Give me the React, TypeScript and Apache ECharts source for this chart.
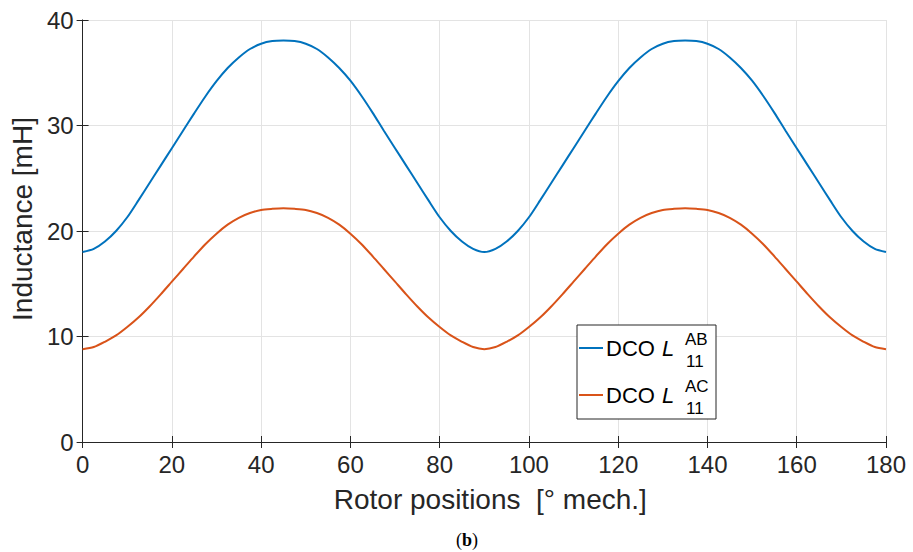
import React, { useEffect, useRef } from "react";
import * as echarts from "echarts";

const rotorPositions: number[] = [
  0, 2.5, 5, 7.5, 10, 12.5, 15, 17.5, 20, 22.5, 25, 27.5, 30, 32.5, 35, 37.5, 40, 42.5, 45,
  47.5, 50, 52.5, 55, 57.5, 60, 62.5, 65, 67.5, 70, 72.5, 75, 77.5, 80, 82.5, 85, 87.5, 90,
  92.5, 95, 97.5, 100, 102.5, 105, 107.5, 110, 112.5, 115, 117.5, 120, 122.5, 125, 127.5, 130, 132.5, 135,
  137.5, 140, 142.5, 145, 147.5, 150, 152.5, 155, 157.5, 160, 162.5, 165, 167.5, 170, 172.5, 175, 177.5, 180,
];

const dcoL11AB: number[] = [
  18.0, 18.3, 19.0, 20.0, 21.3, 22.9, 24.55, 26.2, 27.85, 29.5, 31.15, 32.75, 34.2, 35.45, 36.45, 37.25, 37.75, 38.0, 38.05,
  38.0, 37.75, 37.25, 36.45, 35.45, 34.25, 32.8, 31.2, 29.5, 27.85, 26.2, 24.55, 22.9, 21.3, 20.0, 19.0, 18.3, 18.0,
  18.3, 19.0, 20.0, 21.3, 22.9, 24.55, 26.2, 27.85, 29.5, 31.15, 32.75, 34.2, 35.45, 36.45, 37.25, 37.75, 38.0, 38.05,
  38.0, 37.75, 37.25, 36.45, 35.45, 34.25, 32.8, 31.2, 29.5, 27.85, 26.2, 24.55, 22.9, 21.3, 20.0, 19.0, 18.3, 18.0,
];

const dcoL11AC: number[] = [
  8.8, 9.0, 9.5, 10.1, 10.9, 11.8, 12.85, 14.0, 15.2, 16.4, 17.6, 18.75, 19.75, 20.6, 21.25, 21.7, 22.0, 22.1, 22.15,
  22.1, 22.0, 21.7, 21.25, 20.6, 19.75, 18.75, 17.6, 16.4, 15.2, 14.0, 12.85, 11.8, 10.9, 10.1, 9.5, 9.0, 8.8,
  9.0, 9.5, 10.1, 10.9, 11.8, 12.85, 14.0, 15.2, 16.4, 17.6, 18.75, 19.75, 20.6, 21.25, 21.7, 22.0, 22.1, 22.15,
  22.1, 22.0, 21.7, 21.25, 20.6, 19.75, 18.75, 17.6, 16.4, 15.2, 14.0, 12.85, 11.8, 10.9, 10.1, 9.5, 9.0, 8.8,
];

const xTicks = { min: 0, max: 180, interval: 20 };
const yTicks = { min: 0, max: 40, interval: 10 };

const BLUE = "#0072BD";
const RED = "#D95319";
const FONT = "'Liberation Sans', Arial, sans-serif";

export default function App() {
  const ref = useRef<HTMLDivElement>(null);

  useEffect(() => {
    if (!ref.current) return;
    const chart = echarts.init(ref.current, undefined, { renderer: "svg" });

    const pairs = (ys: number[]) => rotorPositions.map((x, i) => [x, ys[i]]);

    const axisLabel = { color: "#262626", fontSize: 24, fontFamily: FONT };
    const legendEntry = (y: number, sup: string, color: string) => [
      {
        type: "line",
        z: 101,
        shape: { x1: 579, y1: y, x2: 603, y2: y },
        style: { stroke: color, lineWidth: 2 },
      },
      {
        type: "text",
        z: 101,
        x: 606,
        y: y,
        style: {
          text: "DCO",
          font: `22px ${FONT}`,
          fill: "#000",
          verticalAlign: "middle",
          align: "left",
        },
      },
      {
        type: "text",
        z: 101,
        x: 662,
        y: y,
        style: {
          text: "L",
          font: `italic 22px ${FONT}`,
          fill: "#000",
          verticalAlign: "middle",
          align: "left",
        },
      },
      {
        type: "text",
        z: 101,
        x: 685,
        y: y - 9,
        style: {
          text: sup,
          font: `17px ${FONT}`,
          fill: "#000",
          verticalAlign: "middle",
          align: "left",
        },
      },
      {
        type: "text",
        z: 101,
        x: 686,
        y: y + 13,
        style: {
          text: "11",
          font: `17px ${FONT}`,
          fill: "#000",
          verticalAlign: "middle",
          align: "left",
        },
      },
    ];

    chart.setOption({
      animation: false,
      backgroundColor: "#ffffff",
      grid: { left: 82, right: 27, top: 20, bottom: 110, show: false },
      xAxis: [
        {
          type: "value",
          ...xTicks,
          position: "bottom",
          name: "Rotor positions  [° mech.]",
          nameLocation: "middle",
          nameGap: 43,
          nameTextStyle: { color: "#262626", fontSize: 28, fontFamily: FONT, padding: [0, 0, 0, 12] },
          axisLine: { show: true, lineStyle: { color: "#262626", width: 1 } },
          axisTick: { show: true, inside: true, length: 6, lineStyle: { color: "#262626" } },
          axisLabel: { ...axisLabel, margin: 10 },
          splitLine: { show: true, lineStyle: { color: "#e3e3e3", width: 1 } },
        },
        {
          type: "value",
          ...xTicks,
          position: "top",
          axisLine: { show: true, lineStyle: { color: "#262626", width: 1 } },
          axisTick: { show: true, inside: true, length: 6, lineStyle: { color: "#262626" } },
          axisLabel: { show: false },
          splitLine: { show: false },
        },
      ],
      yAxis: [
        {
          type: "value",
          ...yTicks,
          position: "left",
          name: "Inductance [mH]",
          nameLocation: "middle",
          nameGap: 40,
          nameTextStyle: { color: "#262626", fontSize: 28, fontFamily: FONT, padding: [0, 0, 0, 24] },
          axisLine: { show: true, lineStyle: { color: "#8c8c8c", width: 1 } },
          axisTick: { show: true, inside: true, length: 6, lineStyle: { color: "#262626" } },
          axisLabel: { ...axisLabel, margin: 9 },
          splitLine: { show: true, lineStyle: { color: "#e3e3e3", width: 1 } },
        },
        {
          type: "value",
          ...yTicks,
          position: "right",
          axisLine: { show: true, lineStyle: { color: "#262626", width: 1 } },
          axisTick: { show: true, inside: true, length: 6, lineStyle: { color: "#262626" } },
          axisLabel: { show: false },
          splitLine: { show: false },
        },
      ],
      series: [
        {
          name: "DCO L11AB",
          type: "line",
          xAxisIndex: 0,
          yAxisIndex: 0,
          data: pairs(dcoL11AB),
          smooth: 0.25,
          showSymbol: false,
          lineStyle: { color: BLUE, width: 2 },
          itemStyle: { color: BLUE },
        },
        {
          name: "DCO L11AC",
          type: "line",
          xAxisIndex: 0,
          yAxisIndex: 0,
          data: pairs(dcoL11AC),
          smooth: 0.25,
          showSymbol: false,
          lineStyle: { color: RED, width: 2 },
          itemStyle: { color: RED },
        },
      ],
      graphic: [
        {
          type: "rect",
          z: 100,
          shape: { x: 577, y: 325, width: 139, height: 94 },
          style: { fill: "#ffffff", stroke: "#262626", lineWidth: 1 },
        },
        ...legendEntry(348, "AB", BLUE),
        ...legendEntry(395, "AC", RED),
        {
          type: "text",
          z: 101,
          x: 467,
          y: 540,
          style: {
            text: "({b|b})",
            font: `18px 'Liberation Serif', 'Times New Roman', serif`,
            fill: "#000",
            align: "center",
            verticalAlign: "middle",
            rich: {
              b: {
                font: `bold 18px 'Liberation Serif', 'Times New Roman', serif`,
                fill: "#000",
              },
            },
          },
        },
      ],
    });

    return () => chart.dispose();
  }, []);

  return (
    <div
      ref={ref}
      style={{ position: "fixed", left: 0, top: 0, width: 913, height: 552 }}
    />
  );
}
